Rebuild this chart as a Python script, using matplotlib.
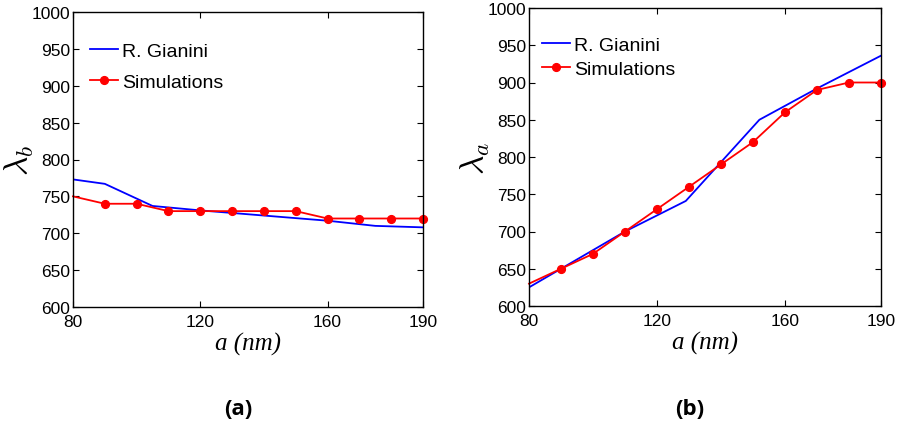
import matplotlib
matplotlib.use("Agg")
import matplotlib.pyplot as plt

plt.rcParams['font.family'] = ['Liberation Sans', 'DejaVu Sans']
plt.rcParams['mathtext.fontset'] = 'cm'

# Lattice constant a (nm)
a_sim = [80, 90, 100, 110, 120, 130, 140, 150, 160, 170, 180, 190]

# Panel (a): lambda_b
gianini_b_x = [80, 90, 105, 120, 140, 160, 175, 190]
gianini_b_y = [773, 767, 737, 731, 724, 717, 710, 708]
sim_b = [750, 740, 740, 730, 730, 730, 730, 730, 720, 720, 720, 720]

# Panel (b): lambda_a
gianini_a_x = [80, 90, 110, 129, 152, 170, 190]
gianini_a_y = [625, 650, 700, 741, 850, 892, 936]
sim_a = [630, 650, 670, 700, 730, 760, 790, 820, 860, 890, 900, 900]

xticks = [80, 120, 160, 190]
yticks = [600, 650, 700, 750, 800, 850, 900, 950, 1000]

fig = plt.figure(figsize=(8.99, 4.27), dpi=100)
W, H = 899, 427


def axes_px(x0, y0, x1, y1):
    return fig.add_axes([x0 / W, 1 - y1 / H, (x1 - x0) / W, (y1 - y0) / H])


ax1 = axes_px(73, 13, 423, 308)
ax2 = axes_px(529, 9, 881, 307)

# (axes, blue x, blue y, red y, y label, label x, legend x, legend top, row spacing)
panels = [
    (ax1, gianini_b_x, gianini_b_y, sim_b, r'$\lambda_b$', -0.106, 0.049, 0.898, 0.70),
    (ax2, gianini_a_x, gianini_a_y, sim_a, r'$\lambda_a$', -0.104, 0.037, 0.906, 0.34),
]

for ax, gx, gy, sy, ylab, ylx, lx, ltop, lspace in panels:
    ax.plot(gx, gy, color='#0000ff', lw=1.3, label='R. Gianini')
    ax.plot(a_sim, sy, color='#ff0000', lw=1.3, marker='o', ms=5.6,
            markevery=list(range(1, len(a_sim))), label='Simulations',
            clip_on=False)
    ax.set_xlim(80, 190)
    ax.set_ylim(600, 1000)
    ax.set_xticks(xticks)
    ax.set_yticks(yticks)
    ax.tick_params(direction='in', top=True, right=True, length=4,
                   width=0.8, labelsize=12.5, colors='black')
    ax.tick_params(axis='x', pad=5)
    ax.tick_params(axis='y', pad=2)
    for s in ax.spines.values():
        s.set_linewidth(1.0)
    ax.set_xlabel('a (nm)', family='Liberation Serif', style='italic',
                  fontsize=18, labelpad=2)
    ax.set_ylabel(ylab, fontsize=24)
    ax.yaxis.set_label_coords(ylx, 0.5)
    ax.legend(loc='upper left', bbox_to_anchor=(lx, ltop),
              frameon=False, fontsize=14, handlelength=1.45,
              handletextpad=0.2, labelspacing=lspace, borderpad=0,
              borderaxespad=0)

fig.text(238.5 / W, 1 - 410 / H, '(a)', family='Open Sans', weight='bold',
         fontsize=16, ha='center', va='center')
fig.text(690 / W, 1 - 410 / H, '(b)', family='Open Sans', weight='bold',
         fontsize=16, ha='center', va='center')

fig.savefig('out.png', dpi=100)
